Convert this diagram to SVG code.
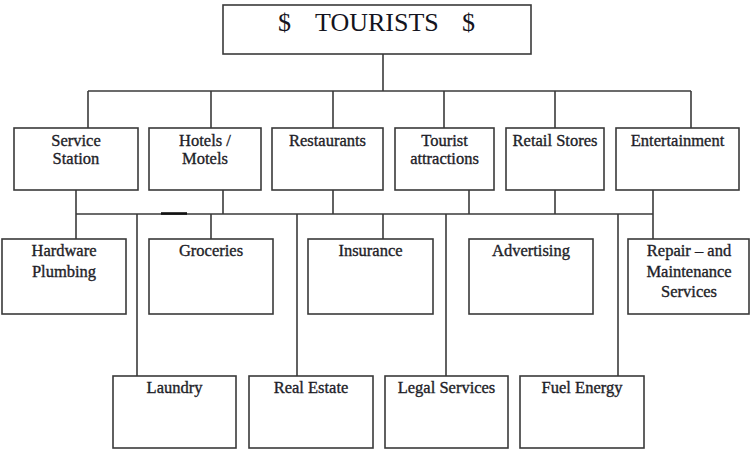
<svg xmlns="http://www.w3.org/2000/svg" width="751" height="450" viewBox="0 0 751 450">
  <style>
    .box { fill: #ffffff; stroke: #3a3a3a; stroke-width: 1.6; }
    .wire { fill: none; stroke: #3a3a3a; stroke-width: 1.6; }
    .lbl { font-family: "Liberation Serif", "Times New Roman", serif; font-size: 16.5px; fill: #1e1e28; stroke: #1e1e28; stroke-width: 0.35; text-anchor: middle; }
    .title { font-family: "Liberation Serif", "Times New Roman", serif; font-size: 26px; fill: #141420; }
  </style>
  <rect width="751" height="450" fill="#ffffff"/>

  <!-- connectors -->
  <g id="connectors" class="wire">
    <line x1="383" y1="54" x2="383" y2="91"/>
    <line x1="88" y1="91" x2="691" y2="91"/>
    <line x1="88" y1="91" x2="88" y2="128"/>
    <line x1="211" y1="91" x2="211" y2="128"/>
    <line x1="333" y1="91" x2="333" y2="128"/>
    <line x1="444" y1="91" x2="444" y2="128"/>
    <line x1="555" y1="91" x2="555" y2="128"/>
    <line x1="691" y1="91" x2="691" y2="128"/>

    <line x1="76" y1="190" x2="76" y2="214"/>
    <line x1="223" y1="190" x2="223" y2="214"/>
    <line x1="333" y1="190" x2="333" y2="214"/>
    <line x1="469" y1="190" x2="469" y2="214"/>
    <line x1="555" y1="190" x2="555" y2="214"/>
    <line x1="653" y1="190" x2="653" y2="214"/>
    <line x1="76" y1="214" x2="653" y2="214"/>
    <line x1="161" y1="213.5" x2="187" y2="213.5" stroke="#111" stroke-width="2.6"/>

    <line x1="76" y1="214" x2="76" y2="239"/>
    <line x1="211" y1="214" x2="211" y2="239"/>
    <line x1="383" y1="214" x2="383" y2="239"/>
    <line x1="653" y1="214" x2="653" y2="239"/>

    <line x1="137" y1="214" x2="137" y2="376"/>
    <line x1="297" y1="214" x2="297" y2="376"/>
    <line x1="446" y1="214" x2="446" y2="376"/>
    <line x1="618" y1="214" x2="618" y2="376"/>
  </g>

  <g id="tourists">
    <rect class="box" x="223" y="5" width="308" height="49"/>
    <text class="title" y="31"><tspan x="278">$</tspan><tspan x="315">TOURISTS</tspan><tspan x="462">$</tspan></text>
  </g>

  <!-- first tier -->
  <g id="service-station">
    <rect class="box" x="14" y="128" width="124" height="62"/>
    <text class="lbl" x="76" y="146">Service</text>
    <text class="lbl" x="76" y="164">Station</text>
  </g>
  <g id="hotels-motels">
    <rect class="box" x="149" y="128" width="112" height="62"/>
    <text class="lbl" x="205" y="146">Hotels /</text>
    <text class="lbl" x="205" y="164">Motels</text>
  </g>
  <g id="restaurants">
    <rect class="box" x="272" y="128" width="111" height="62"/>
    <text class="lbl" x="327.5" y="146">Restaurants</text>
  </g>
  <g id="tourist-attractions">
    <rect class="box" x="395" y="128" width="99" height="62"/>
    <text class="lbl" x="444.5" y="146">Tourist</text>
    <text class="lbl" x="444.5" y="164">attractions</text>
  </g>
  <g id="retail-stores">
    <rect class="box" x="506" y="128" width="98" height="62"/>
    <text class="lbl" x="555" y="146">Retail Stores</text>
  </g>
  <g id="entertainment">
    <rect class="box" x="616" y="128" width="123" height="62"/>
    <text class="lbl" x="677.5" y="146">Entertainment</text>
  </g>

  <!-- second tier -->
  <g id="hardware-plumbing">
    <rect class="box" x="2" y="239" width="124" height="75"/>
    <text class="lbl" x="64" y="256">Hardware</text>
    <text class="lbl" x="64" y="277">Plumbing</text>
  </g>
  <g id="groceries">
    <rect class="box" x="149" y="239" width="124" height="75"/>
    <text class="lbl" x="211" y="256">Groceries</text>
  </g>
  <g id="insurance">
    <rect class="box" x="308" y="239" width="125" height="75"/>
    <text class="lbl" x="370.5" y="256">Insurance</text>
  </g>
  <g id="advertising">
    <rect class="box" x="469" y="239" width="124" height="75"/>
    <text class="lbl" x="531" y="256">Advertising</text>
  </g>
  <g id="repair-maintenance">
    <rect class="box" x="628" y="239" width="121" height="75"/>
    <text class="lbl" x="689" y="256">Repair – and</text>
    <text class="lbl" x="689" y="277">Maintenance</text>
    <text class="lbl" x="689" y="297">Services</text>
  </g>

  <!-- third tier -->
  <g id="laundry">
    <rect class="box" x="113" y="376" width="123" height="72"/>
    <text class="lbl" x="174.5" y="393">Laundry</text>
  </g>
  <g id="real-estate">
    <rect class="box" x="249" y="376" width="124" height="72"/>
    <text class="lbl" x="311" y="393">Real Estate</text>
  </g>
  <g id="legal-services">
    <rect class="box" x="385" y="376" width="123" height="72"/>
    <text class="lbl" x="446.5" y="393">Legal Services</text>
  </g>
  <g id="fuel-energy">
    <rect class="box" x="520" y="376" width="124" height="72"/>
    <text class="lbl" x="582" y="393">Fuel Energy</text>
  </g>
</svg>
